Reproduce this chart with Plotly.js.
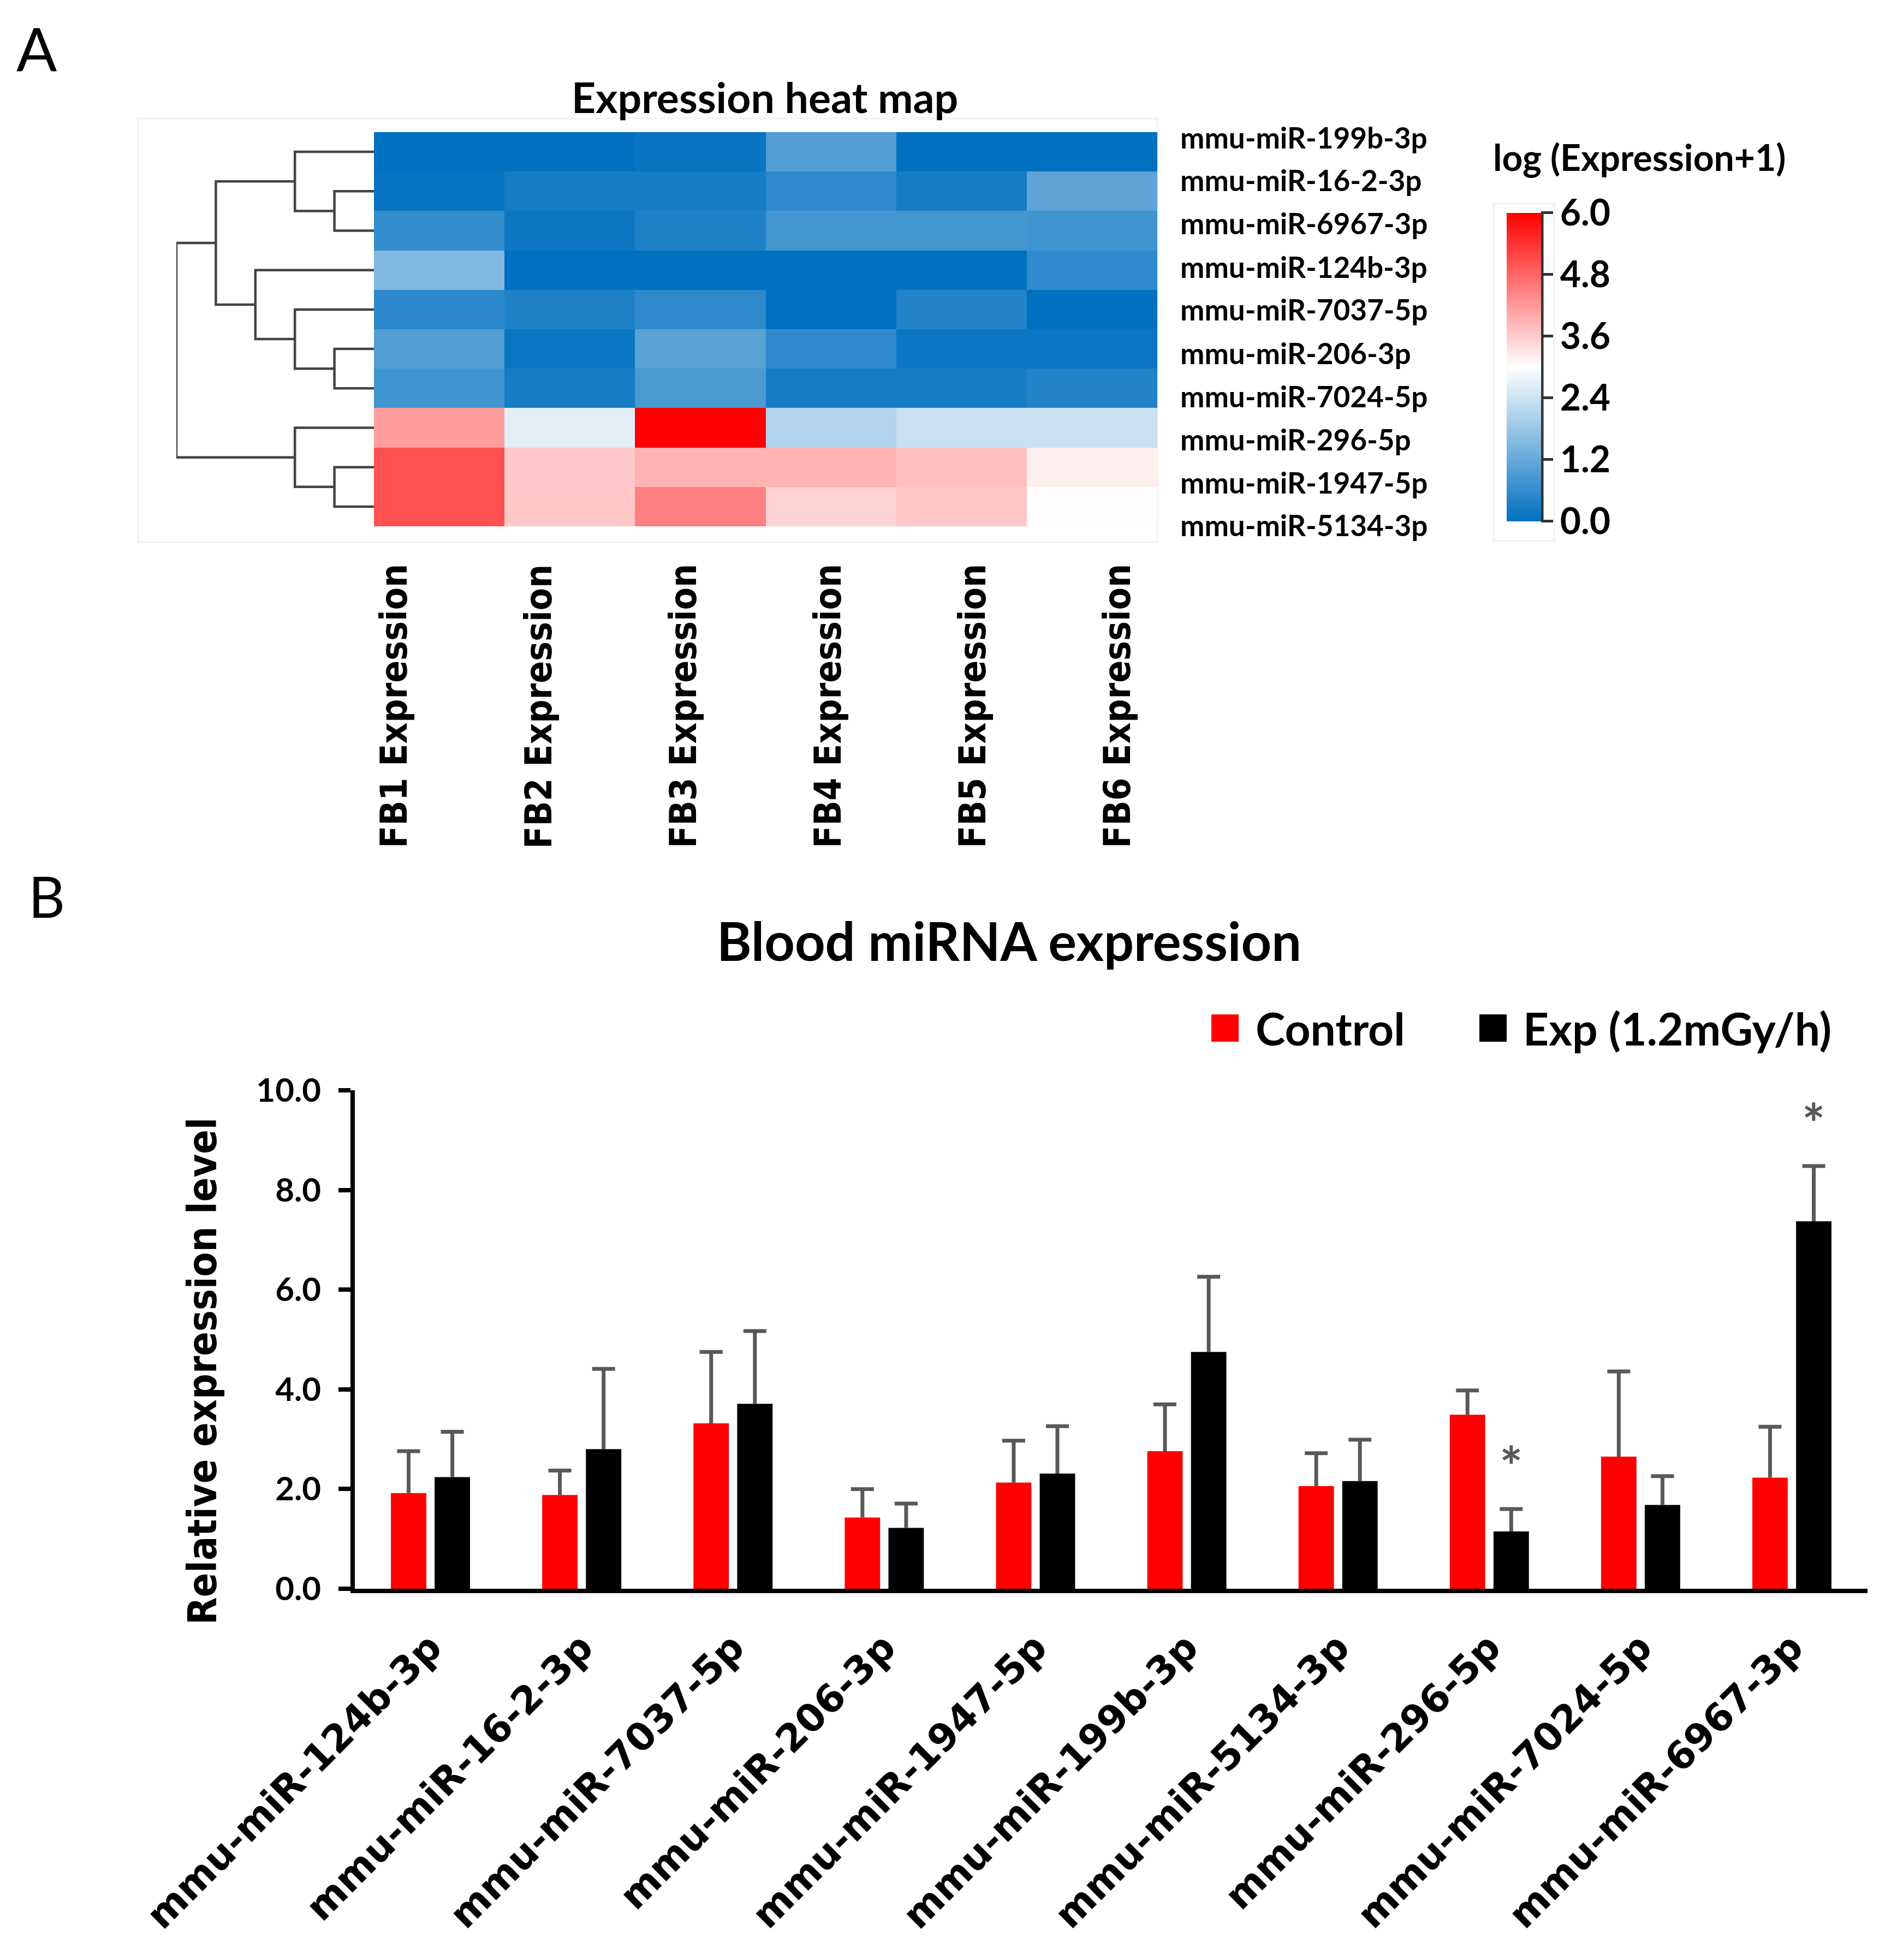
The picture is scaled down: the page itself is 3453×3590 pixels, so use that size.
<!DOCTYPE html>
<html>
<head>
<meta charset="utf-8">
<script src="https://cdn.plot.ly/plotly-3.0.1.min.js"></script>
<style>html,body{margin:0;padding:0;background:#fff;}#chart{width:3453px;height:3590px;}</style>
</head>
<body>
<div id="chart"></div>
<script>
// ---------------- DATA ----------------
// Panel A: heat map (rows top -> bottom, columns FB1..FB6), log(Expression+1)
const hmRows = ['mmu-miR-199b-3p','mmu-miR-16-2-3p','mmu-miR-6967-3p','mmu-miR-124b-3p','mmu-miR-7037-5p',
                'mmu-miR-206-3p','mmu-miR-7024-5p','mmu-miR-296-5p','mmu-miR-1947-5p','mmu-miR-5134-3p'];
const hmCols = ['FB1 Expression','FB2 Expression','FB3 Expression','FB4 Expression','FB5 Expression','FB6 Expression'];
const hmZ = [
  [0.00, 0.00, 0.10, 0.95, 0.00, 0.00],
  [0.08, 0.25, 0.25, 0.55, 0.25, 1.10],
  [0.60, 0.15, 0.35, 0.80, 0.80, 0.75],
  [1.50, 0.00, 0.00, 0.00, 0.00, 0.55],
  [0.50, 0.35, 0.55, 0.00, 0.42, 0.00],
  [0.95, 0.12, 1.05, 0.55, 0.12, 0.12],
  [0.75, 0.25, 0.88, 0.25, 0.25, 0.40],
  [4.15, 2.65, 6.00, 2.10, 2.35, 2.35],
  [5.05, 3.65, 3.90, 3.90, 3.75, 3.20],
  [5.05, 3.67, 4.50, 3.53, 3.67, 3.02]
];
const cbTicks = [0.0, 1.2, 2.4, 3.6, 4.8, 6.0];
// Dendrogram linkage: [nodeA, nodeB, height]; leaves 0..9 = rows, merge k creates node 10+k
const dendroMerges = [[1,2,1],[0,10,2],[5,6,1],[4,12,2],[3,13,3],[11,14,4],[8,9,1],[7,16,2],[15,17,5]];

// Panel B: blood miRNA expression
const barCats = ['mmu-miR-124b-3p','mmu-miR-16-2-3p','mmu-miR-7037-5p','mmu-miR-206-3p','mmu-miR-1947-5p',
                 'mmu-miR-199b-3p','mmu-miR-5134-3p','mmu-miR-296-5p','mmu-miR-7024-5p','mmu-miR-6967-3p'];
const seriesNames = ['Control','Exp (1.2mGy/h)'];
const ctrlMean = [1.92, 1.88, 3.32, 1.43, 2.13, 2.76, 2.06, 3.49, 2.65, 2.23];
const ctrlErr  = [0.84, 0.49, 1.43, 0.57, 0.84, 0.94, 0.66, 0.49, 1.71, 1.02];
const expMean  = [2.24, 2.80, 3.71, 1.22, 2.31, 4.75, 2.16, 1.15, 1.68, 7.37];
const expErr   = [0.91, 1.61, 1.46, 0.49, 0.95, 1.51, 0.83, 0.45, 0.58, 1.11];
const expSig   = [0, 0, 0, 0, 0, 0, 0, 1, 0, 1];
const yTicks = [0, 2, 4, 6, 8, 10];

// ---------------- LAYOUT HELPERS ----------------
const W = 3453, H = 3590;
const px = v => v / W;
const py = v => 1 - v / H;
const RED = 'rgb(255,0,0)', BLACK = '#000000', ERR = '#595959';
const seriesColors = [RED, BLACK];
const LATO = 'Lato, "Open Sans", sans-serif';
const DJ = '"DejaVu Sans", sans-serif';
const DJC = '"DejaVu Sans Condensed", "DejaVu Sans", sans-serif';
const bargap = 0.422, bargroupgap = 0.19;
const slotOff = (1 - bargap) / 4;           // centre offset of each of the 2 grouped bars (category units)
const catIdx = barCats.map((_, i) => i);

// ---------------- TRACES ----------------
// dendrogram path from linkage
const pos = [], hgt = [];
for (let i = 0; i < hmRows.length; i++) { pos[i] = i; hgt[i] = 0; }
const dx = [], dy = [];
dendroMerges.forEach((m, k) => {
  const [a, b, h] = m;
  dx.push(hgt[a], h, h, hgt[b], null);
  dy.push(pos[a], pos[a], pos[b], pos[b], null);
  pos[hmRows.length + k] = (pos[a] + pos[b]) / 2;
  hgt[hmRows.length + k] = h;
});

const errBar = arr => ({type: 'data', symmetric: false, array: arr, arrayminus: arr.map(() => 0),
                        color: ERR, thickness: 7, width: 0});
const capTrace = (mean, err, off) => ({
  type: 'scatter', mode: 'markers', xaxis: 'x2', yaxis: 'y2',
  x: catIdx.map(i => i + off), y: mean.map((m, i) => m + err[i]),
  marker: {symbol: 'line-ew', size: 30, color: ERR, line: {color: ERR, width: 7}},
  hoverinfo: 'skip', showlegend: false
});

const traces = [
  {
    type: 'heatmap', z: hmZ, x: hmCols.map((_, i) => i), y: hmRows.map((_, i) => i),
    xaxis: 'x', yaxis: 'y', zmin: 0, zmax: 6,
    colorscale: [[0, 'rgb(0,112,192)'], [0.5, 'rgb(255,255,255)'], [1, 'rgb(255,0,0)']],
    hoverinfo: 'skip',
    colorbar: {
      x: px(2760), xanchor: 'left', xpad: 0,
      y: py(672), yanchor: 'middle', ypad: 0,
      len: 565, lenmode: 'pixels', thickness: 63, thicknessmode: 'pixels',
      outlinewidth: 0, tickvals: cbTicks, tickformat: '.1f',
      ticks: 'outside', ticklen: 22, tickwidth: 5, tickcolor: '#333',
      tickfont: {family: LATO, size: 66, color: '#000', weight: 700}
    }
  },
  {
    type: 'scatter', mode: 'lines', x: dx, y: dy, xaxis: 'x3', yaxis: 'y',
    line: {color: '#444', width: 4.5}, hoverinfo: 'skip', showlegend: false
  },
  {
    type: 'bar', name: seriesNames[0], x: catIdx, y: ctrlMean, xaxis: 'x2', yaxis: 'y2',
    marker: {color: seriesColors[0], line: {width: 0}}, error_y: errBar(ctrlErr), showlegend: false
  },
  {
    type: 'bar', name: seriesNames[1], x: catIdx, y: expMean, xaxis: 'x2', yaxis: 'y2',
    marker: {color: seriesColors[1], line: {width: 0}}, error_y: errBar(expErr), showlegend: false
  },
  capTrace(ctrlMean, ctrlErr, -slotOff),
  capTrace(expMean, expErr, slotOff)
];

// ---------------- ANNOTATIONS ----------------
const ann = [];
ann.push({xref: 'paper', yref: 'paper', x: px(28), y: py(88), xanchor: 'left', yanchor: 'middle',
          text: 'A', showarrow: false, font: {family: LATO, size: 110, color: '#000'}});
ann.push({xref: 'paper', yref: 'paper', x: px(50), y: py(1640), xanchor: 'left', yanchor: 'middle',
          text: 'B', showarrow: false, font: {family: LATO, size: 104, color: '#000'}});
ann.push({xref: 'paper', yref: 'paper', x: px(1401), y: py(177), xanchor: 'center', yanchor: 'middle',
          text: 'Expression heat map', showarrow: false, font: {family: LATO, size: 77, color: '#000', weight: 700}});
ann.push({xref: 'paper', yref: 'paper', x: px(3003), y: py(287), xanchor: 'center', yanchor: 'middle',
          text: 'log (Expression+1)', showarrow: false, font: {family: LATO, size: 66, color: '#000', weight: 700}});
hmRows.forEach((r, i) => ann.push({
  xref: 'paper', yref: 'paper', x: px(2160), y: py(251 + i * 79), xanchor: 'left', yanchor: 'middle',
  text: r, showarrow: false, font: {family: LATO, size: 53, color: '#000', weight: 700}}));
hmCols.forEach((c, i) => ann.push({
  xref: 'paper', yref: 'paper', x: px(721 + i * 265), y: py(1031), xanchor: 'center', yanchor: 'top',
  textangle: -90, text: c, showarrow: false, font: {family: DJC, size: 67, color: '#000', weight: 700}}));
ann.push({xref: 'paper', yref: 'paper', x: px(1849), y: py(1722), xanchor: 'center', yanchor: 'middle',
          text: 'Blood miRNA expression', showarrow: false, font: {family: LATO, size: 97, color: '#000', weight: 700}});
ann.push({xref: 'paper', yref: 'paper', x: px(370), y: py(2512), xanchor: 'center', yanchor: 'middle',
          textangle: -90, text: 'Relative expression level', showarrow: false,
          font: {family: DJC, size: 73, color: '#000', weight: 700}});
// legend (manual, sized like the reference)
const legSq = [2219, 2710], legTx = [2298, 2788];
const shapes = [];
seriesNames.forEach((n, i) => {
  shapes.push({type: 'rect', xref: 'paper', yref: 'paper', x0: px(legSq[i]), x1: px(legSq[i] + 50),
               y0: py(1908), y1: py(1858), fillcolor: seriesColors[i], line: {width: 0}});
  ann.push({xref: 'paper', yref: 'paper', x: px(legTx[i]), y: py(1883), xanchor: 'left', yanchor: 'middle',
            text: n, showarrow: false, font: {family: LATO, size: 82, color: '#000', weight: 700}});
});
// significance asterisks above the Exp bars
catIdx.forEach(i => {
  if (expSig[i]) ann.push({xref: 'x2', yref: 'y2', x: i + slotOff, y: expMean[i] + expErr[i],
    yshift: 80, xanchor: 'center', yanchor: 'middle', text: '*', showarrow: false,
    font: {family: LATO, size: 100, color: ERR, weight: 700}});
});
// faint frames
shapes.push({type: 'rect', xref: 'paper', yref: 'paper', x0: px(253), x1: px(2120), y0: py(993), y1: py(217),
             line: {color: '#f2f2f2', width: 3}, layer: 'below'});
shapes.push({type: 'rect', xref: 'paper', yref: 'paper', x0: px(2736), x1: px(2847), y0: py(991), y1: py(373),
             line: {color: '#f2f2f2', width: 3}, layer: 'below'});
// colourbar axis line
shapes.push({type: 'line', xref: 'paper', yref: 'paper', x0: px(2825), x1: px(2825), y0: py(390), y1: py(955),
             line: {color: '#333', width: 5}});

const hidden = {showgrid: false, zeroline: false, showticklabels: false, ticks: '', showline: false};

const layout = {
  width: W, height: H, autosize: false,
  margin: {l: 0, r: 0, t: 0, b: 0, pad: 0},
  paper_bgcolor: '#fff', plot_bgcolor: 'rgba(0,0,0,0)',
  showlegend: false,
  barmode: 'group', bargap: bargap, bargroupgap: bargroupgap,
  xaxis: Object.assign({domain: [px(685), px(2120)], range: [-0.5, 5.5], anchor: 'y'}, hidden),
  yaxis: Object.assign({domain: [py(964), py(242)], range: [9.5, -0.5], anchor: 'x'}, hidden),
  xaxis3: Object.assign({domain: [px(323), px(685)], range: [5, 0], anchor: 'y'}, hidden),
  xaxis2: {
    domain: [px(650), px(3421)], anchor: 'y2', range: [-0.5, barCats.length - 0.5],
    tickvals: catIdx, ticktext: barCats,
    showline: true, linewidth: 8, linecolor: '#000', ticks: '', showgrid: false, zeroline: false,
    tickangle: -45, ticklabelstandoff: 30,
    tickfont: {family: DJ, size: 70, color: '#000', weight: 700}
  },
  yaxis2: {
    domain: [py(2910), py(1997)], anchor: 'x2', range: [0, 10],
    showline: true, linewidth: 8, linecolor: '#000', showgrid: false, zeroline: false,
    ticks: 'outside', ticklen: 22, tickwidth: 8, tickcolor: '#000',
    tickvals: yTicks, tickformat: '.1f', ticklabelstandoff: 20,
    tickfont: {family: LATO, size: 60, color: '#000', weight: 700}
  },
  annotations: ann,
  shapes: shapes
};

Plotly.newPlot('chart', traces, layout, {staticPlot: true, displayModeBar: false});
</script>
</body>
</html>
